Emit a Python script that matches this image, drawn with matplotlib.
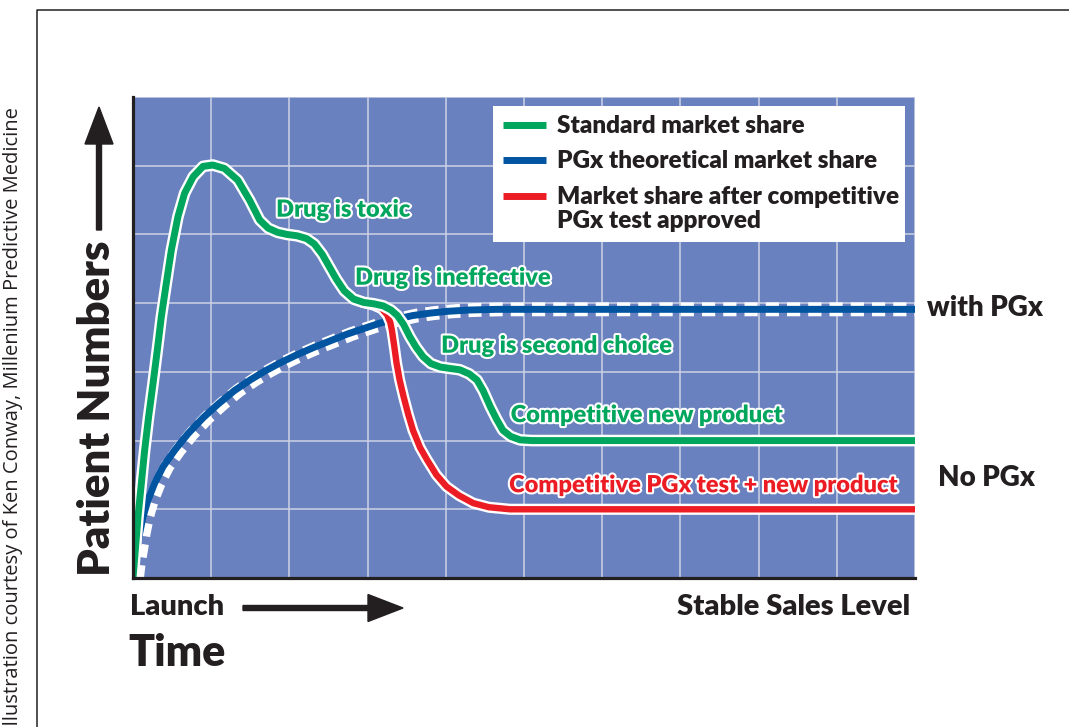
"""Patient numbers over time: standard vs PGx market share."""
import matplotlib
matplotlib.use("Agg")
import matplotlib.pyplot as plt
import matplotlib.patheffects as pe
from matplotlib.transforms import offset_copy
from matplotlib.patches import FancyArrow, Rectangle
from matplotlib.lines import Line2D

# values: x in grid columns (0-10), y in grid rows (0-7)
std_x = [0.00, 0.03, 0.064, 0.107, 0.149, 0.20, 0.256, 0.311, 0.362, 0.426, 0.49, 0.575,
         0.66, 0.77, 0.895, 1.02, 1.17, 1.34, 1.49, 1.62, 1.73, 1.85, 1.97, 2.10, 2.22,
         2.32, 2.42, 2.51, 2.60, 2.70, 2.82, 2.95, 3.08, 3.20, 3.30, 3.38, 3.46, 3.54,
         3.62, 3.71, 3.81, 3.93, 4.05, 4.18, 4.30, 4.40, 4.48, 4.57, 4.65, 4.73, 4.83,
         4.95, 5.10, 10.0]
std_y = [0.00, 0.41, 0.89, 1.38, 1.86, 2.35, 2.83, 3.32, 3.80, 4.29, 4.77, 5.26,
         5.60, 5.84, 5.99, 6.01, 5.96, 5.79, 5.50, 5.21, 5.09, 5.03, 5.00, 4.98, 4.94,
         4.86, 4.71, 4.53, 4.35, 4.18, 4.06, 4.01, 3.99, 3.96, 3.90, 3.82, 3.69, 3.51,
         3.36, 3.22, 3.12, 3.07, 3.05, 3.03, 2.97, 2.88, 2.72, 2.49, 2.31, 2.15, 2.06,
         2.01, 2.00, 2.00]

pgx_x = [0.00, 0.02, 0.051, 0.085, 0.128, 0.19, 0.277, 0.384, 0.533, 0.703, 0.895, 1.087,
         1.30, 1.51, 1.70, 1.88, 2.08, 2.30, 2.52, 2.74, 2.95, 3.16, 3.38, 3.58, 3.80,
         4.01, 4.30, 4.65, 5.20, 10.0]
pgx_y = [0.00, 0.20, 0.41, 0.65, 0.89, 1.13, 1.38, 1.62, 1.86, 2.10, 2.33, 2.53,
         2.73, 2.89, 3.02, 3.13, 3.24, 3.35, 3.45, 3.55, 3.63, 3.71, 3.77, 3.82, 3.855,
         3.88, 3.90, 3.91, 3.91, 3.91]

comp_x = [2.82, 2.95, 3.08, 3.18, 3.25, 3.29, 3.31, 3.34, 3.37, 3.41, 3.46, 3.52, 3.58,
          3.67, 3.76, 3.88, 4.01, 4.17, 4.35, 4.55, 4.82, 10.0]
comp_y = [4.06, 4.01, 3.97, 3.92, 3.83, 3.72, 3.61, 3.38, 3.13, 2.88, 2.64, 2.38, 2.15,
          1.90, 1.72, 1.50, 1.33, 1.20, 1.09, 1.03, 1.00, 1.00]

series_labels = ["Standard market share", "PGx theoretical market share",
                 "Market share after competitive\nPGx test approved"]
series_colors = ["#00a65d", "#0054a0", "#ec1c24"]

events = ["Drug is toxic", "Drug is ineffective", "Drug is second choice",
          "Competitive new product", "Competitive PGx test + new product"]
event_x = [1.83, 2.84, 3.94, 4.83, 4.81]
event_y = [5.36, 4.37, 3.38, 2.37, 1.35]
event_colors = ["#00a65d"] * 4 + ["#ec1c24"]

W, H = 1069, 727
fig = plt.figure(figsize=(W / 100, H / 100), dpi=100)
fx = lambda px: px / W
fy = lambda py: 1 - py / H
INK = "#231f20"
LABEL = ["Lato", "DejaVu Sans"]

# outer frame and credit
fig.add_artist(Line2D([fx(37), fx(37), 1.0], [0, fy(10), fy(10)],
                      transform=fig.transFigure, color=INK, lw=1.1))
fig.text(fx(13), fy(731), "Illustration courtesy of Ken Conway, Millenium Predictive Medicine",
         rotation=90, ha="center", va="bottom", fontsize=14.5,
         family=["Open Sans", "DejaVu Sans"], color=INK)

ax = fig.add_axes([fx(133), fy(578), 782 / W, 481 / H])
ax.set_facecolor("#6a81bf")
ax.set_xlim(0, 10)
ax.set_ylim(0, 7)
ax.set_xticks(range(11))
ax.set_yticks(range(8))
ax.tick_params(length=0, labelbottom=False, labelleft=False)
ax.grid(True, color="#cdd1e3", lw=1.1)
ax.set_axisbelow(True)
for s in ["top", "right"]:
    ax.spines[s].set_visible(False)
for s in ["left", "bottom"]:
    ax.spines[s].set_color(INK)
    ax.spines[s].set_linewidth(2.3)
    ax.spines[s].set_zorder(6)

# PGx curve: white dashed band behind the blue line
shifted = offset_copy(ax.transData, fig=fig, x=4, y=0, units="dots")
ax.plot(pgx_x, pgx_y, color="white", lw=10.0, ls=(0, (0.95, 0.58)),
        dash_capstyle="butt", transform=shifted, zorder=2)
ax.plot(pgx_x, pgx_y, color=series_colors[1], lw=5.0, zorder=3,
        solid_joinstyle="round", solid_capstyle="butt")

ax.plot(comp_x, comp_y, color=series_colors[2], lw=4.6, zorder=4,
        solid_joinstyle="round", solid_capstyle="butt",
        path_effects=[pe.Stroke(linewidth=8.0, foreground="white"), pe.Normal()])
ax.plot(std_x, std_y, color=series_colors[0], lw=5.0, zorder=5,
        solid_joinstyle="round", solid_capstyle="butt",
        path_effects=[pe.Stroke(linewidth=8.4, foreground="white"), pe.Normal()])

for txt, x, y, c in zip(events, event_x, event_y, event_colors):
    ax.text(x, y, txt, color=c, fontsize=17, weight="heavy", family=LABEL,
            ha="left", va="center", zorder=7,
            path_effects=[pe.withStroke(linewidth=3, foreground="white")])

# legend box
fig.add_artist(Rectangle((fx(493), fy(242)), fx(905) - fx(493), fy(106) - fy(242),
                         transform=fig.transFigure, facecolor="white", edgecolor="none", zorder=8))
for lab, c, py in zip(series_labels, series_colors, [125, 160, 196]):
    fig.add_artist(Line2D([fx(503), fx(546)], [fy(py), fy(py)], transform=fig.transFigure,
                          color=c, lw=5, solid_capstyle="butt", zorder=9))
    fig.text(fx(557), fy(py - 10), lab, ha="left", va="top", fontsize=17.5, weight="heavy",
             family=LABEL, color=INK, linespacing=1.12, zorder=9)

# side labels
fig.text(fx(927), fy(308), "with PGx", ha="left", va="center", fontsize=20,
         weight="heavy", family=LABEL, color=INK)
fig.text(fx(938), fy(478), "No PGx", ha="left", va="center", fontsize=20,
         weight="heavy", family=LABEL, color=INK)

# axis words and arrows
fig.text(fx(97), fy(576), "Patient Numbers", rotation=90, ha="center", va="bottom",
         fontsize=31.5, weight="heavy", family=LABEL, color=INK)
fig.add_artist(FancyArrow(fx(99), fy(230), 0, fy(107) - fy(230), width=5 / W,
                          head_width=28 / W, head_length=37 / H, length_includes_head=True,
                          transform=fig.transFigure, color=INK))
fig.text(fx(130), fy(607), "Launch", ha="left", va="center", fontsize=21,
         weight="heavy", family=LABEL, color=INK)
fig.add_artist(FancyArrow(fx(243), fy(608), fx(403) - fx(243), 0, width=5 / H,
                          head_width=27 / H, head_length=35 / W, length_includes_head=True,
                          transform=fig.transFigure, color=INK))
fig.text(fx(910), fy(607), "Stable Sales Level", ha="right", va="center", fontsize=21,
         weight="heavy", family=LABEL, color=INK)
fig.text(fx(128), fy(653), "Time", ha="left", va="center", fontsize=31,
         weight="heavy", family=LABEL, color=INK)

fig.savefig("out.png", dpi=100)
